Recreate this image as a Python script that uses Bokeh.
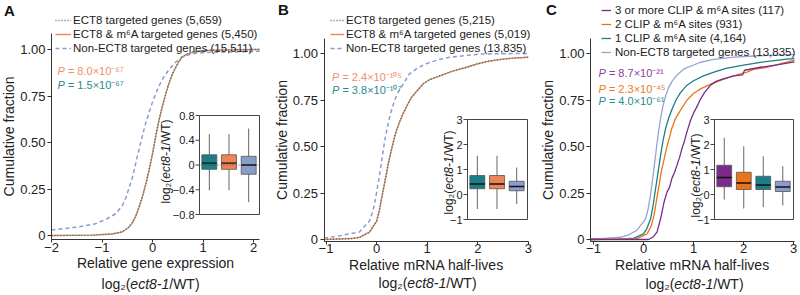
import numpy as np
from bokeh.plotting import figure
from bokeh.models import Range1d, FixedTicker, Label, Legend, LegendItem
from bokeh.layouts import row
from bokeh.embed import file_html
from bokeh.resources import INLINE
from bokeh.core.properties import value

FONT = "Liberation Sans"
TXT = "#222222"

# ------------------------------------------------------------------ data
y_ticks = [0, 0.25, 0.5, 0.75, 1.0]
y_tick_labels = ["0", "0.25", "0.50", "0.75", "1.00"]

# Panel A : relative gene expression
a_xticks = [-2, -1, 0, 1, 2]
a_xtick_labels = ["\u22122", "\u22121", "0", "1", "2"]
a_ect8_x = [-2.0, -1.2, -0.8, -0.6, -0.47, -0.4, -0.34, -0.27, -0.2, -0.13, -0.07, 0.0, 0.06, 0.12,
            0.19, 0.25, 0.32, 0.39, 0.46, 0.52, 0.59, 0.68, 0.79, 1.05, 1.5, 2.12]
a_ect8_y = [0.0, 0.002, 0.008, 0.02, 0.045, 0.07, 0.10, 0.15, 0.21, 0.28, 0.35, 0.44, 0.53, 0.61,
            0.69, 0.75, 0.815, 0.865, 0.905, 0.935, 0.96, 0.975, 0.985, 0.995, 0.998, 1.0]
a_m6a_x = [-2.0, -1.2, -0.8, -0.6, -0.47, -0.4, -0.34, -0.27, -0.2, -0.13, -0.07, 0.0, 0.06, 0.12,
           0.19, 0.25, 0.32, 0.39, 0.46, 0.52, 0.59, 0.68, 0.79, 1.05, 1.5, 2.12]
a_m6a_y = [0.0, 0.002, 0.008, 0.019, 0.043, 0.068, 0.098, 0.148, 0.208, 0.278, 0.348, 0.438, 0.528,
           0.608, 0.688, 0.748, 0.813, 0.864, 0.904, 0.934, 0.959, 0.975, 0.985, 0.995, 0.998, 1.0]
a_non_x = [-2.0, -1.5, -1.13, -0.9, -0.73, -0.6, -0.53, -0.4, -0.27, -0.14, -0.01, 0.12, 0.22, 0.32,
           0.45, 0.59, 0.75, 0.92, 1.2, 1.6, 2.12]
a_non_y = [0.03, 0.045, 0.063, 0.09, 0.117, 0.16, 0.2, 0.31, 0.46, 0.6, 0.71, 0.8, 0.85, 0.89,
           0.93, 0.96, 0.975, 0.982, 0.985, 0.987, 0.99]
a_legend = ["ECT8 targeted genes (5,659)", "ECT8 & m\u2076A targeted genes (5,450)",
            "Non-ECT8 targeted genes (15,511)"]
a_pvals = ["8.0\u00d710\u207b\u2076\u2077", "1.5\u00d710\u207b\u2076\u2077"]
a_box_ticks = [-0.8, -0.4, 0, 0.4, 0.8]
a_box_tick_labels = ["\u22120.8", "\u22120.4", "0", "0.4", "0.8"]
a_box_q1 = [-0.07, -0.07, -0.15]
a_box_med = [0.03, 0.03, 0.0]
a_box_q3 = [0.165, 0.165, 0.14]
a_box_lo = [-0.41, -0.41, -0.60]
a_box_hi = [0.50, 0.50, 0.59]

# Panel B : relative mRNA half-lives
bc_xticks = [-1, 0, 1, 2, 3]
bc_xtick_labels = ["\u22121", "0", "1", "2", "3"]
b_ect8_x = [-1.04, -0.5, -0.34, -0.14, 0.0, 0.05, 0.09, 0.14, 0.19, 0.24, 0.29, 0.34, 0.39, 0.45,
            0.52, 0.6, 0.69, 0.8, 0.92, 1.05, 1.25, 1.5, 1.78, 2.0, 2.24, 2.5, 2.7, 3.0]
b_ect8_y = [0.0, 0.005, 0.012, 0.04, 0.10, 0.15, 0.21, 0.28, 0.35, 0.42, 0.48, 0.535, 0.585, 0.63,
            0.675, 0.72, 0.765, 0.80, 0.837, 0.86, 0.88, 0.905, 0.926, 0.945, 0.96, 0.97, 0.975, 0.98]
b_m6a_x = [-1.04, -0.5, -0.34, -0.14, 0.0, 0.05, 0.09, 0.14, 0.19, 0.24, 0.29, 0.34, 0.39, 0.45,
           0.52, 0.6, 0.69, 0.8, 0.92, 1.05, 1.25, 1.5, 1.78, 2.0, 2.24, 2.5, 2.7, 3.0]
b_m6a_y = [0.0, 0.005, 0.011, 0.039, 0.098, 0.148, 0.208, 0.278, 0.348, 0.418, 0.478, 0.534, 0.584,
           0.629, 0.674, 0.719, 0.764, 0.80, 0.836, 0.86, 0.88, 0.905, 0.926, 0.945, 0.96, 0.97, 0.975, 0.98]
b_non_x = [-1.04, -0.73, -0.34, -0.14, -0.09, -0.04, 0.01, 0.06, 0.11, 0.16, 0.21, 0.26, 0.31, 0.36,
           0.42, 0.49, 0.65, 0.8, 0.98, 1.2, 1.45, 2.04, 2.5, 3.0]
b_non_y = [0.007, 0.02, 0.04, 0.10, 0.14, 0.19, 0.27, 0.35, 0.44, 0.53, 0.60, 0.66, 0.71, 0.75,
           0.79, 0.82, 0.89, 0.92, 0.945, 0.965, 0.98, 0.997, 0.999, 1.0]
b_legend = ["ECT8 targeted genes (5,215)", "ECT8 & m\u2076A targeted genes (5,019)",
            "Non-ECT8 targeted genes (13,835)"]
b_pvals = ["2.4\u00d710\u207b\u00b9\u2070\u2075", "3.8\u00d710\u207b\u00b9\u2070\u2077"]
bc_box_ticks = [-1, 0, 1, 2, 3]
bc_box_tick_labels = ["\u22121", "0", "1", "2", "3"]
b_box_q1 = [0.23, 0.23, 0.15]
b_box_med = [0.42, 0.42, 0.32]
b_box_q3 = [0.76, 0.76, 0.53]
b_box_lo = [-0.58, -0.58, -0.38]
b_box_hi = [1.55, 1.55, 1.08]

# Panel C : by number of CLIP & m6A sites
c_3_x = [-1.06, 0.1, 0.2, 0.27, 0.34, 0.41, 0.47, 0.52, 0.57, 0.62, 0.67, 0.72, 0.77, 0.82, 0.87,
         0.94, 1.01, 1.08, 1.14, 1.22, 1.34, 1.45, 1.61, 1.81, 1.98, 2.02, 2.34, 2.7, 3.02]
c_3_y = [0.0, 0.0, 0.015, 0.04, 0.11, 0.2, 0.255, 0.28, 0.33, 0.36, 0.40, 0.44, 0.49, 0.53, 0.58,
         0.64, 0.685, 0.72, 0.755, 0.79, 0.83, 0.85, 0.865, 0.88, 0.885, 0.91, 0.926, 0.94, 0.955]
c_2_x = [-1.06, -0.13, 0.07, 0.15, 0.21, 0.26, 0.31, 0.36, 0.41, 0.46, 0.51, 0.57, 0.64, 0.75, 0.87,
         1.0, 1.14, 1.3, 1.54, 1.8, 2.07, 2.2, 2.47, 2.75, 3.02]
c_2_y = [0.0, 0.005, 0.03, 0.07, 0.13, 0.21, 0.29, 0.37, 0.43, 0.49, 0.54, 0.60, 0.65, 0.70, 0.75,
         0.785, 0.81, 0.83, 0.855, 0.88, 0.90, 0.915, 0.926, 0.945, 0.965]
c_1_x = [-1.06, -0.5, -0.19, 0.0, 0.07, 0.14, 0.19, 0.24, 0.29, 0.34, 0.39, 0.44, 0.5, 0.57, 0.65,
         0.74, 0.85, 1.01, 1.2, 1.41, 1.65, 1.94, 2.4, 2.87, 3.02]
c_1_y = [0.0, 0.002, 0.007, 0.03, 0.06, 0.11, 0.18, 0.27, 0.36, 0.45, 0.53, 0.595, 0.65, 0.70, 0.75,
         0.79, 0.825, 0.855, 0.88, 0.90, 0.92, 0.935, 0.955, 0.97, 0.972]
c_non_x = [-1.06, -0.86, -0.46, -0.3, -0.13, 0.04, 0.09, 0.14, 0.19, 0.24, 0.29, 0.34, 0.39, 0.44,
           0.5, 0.57, 0.67, 0.81, 1.14, 1.4, 1.81, 2.3, 2.87, 3.02]
c_non_y = [0.004, 0.005, 0.012, 0.025, 0.05, 0.11, 0.16, 0.24, 0.34, 0.45, 0.56, 0.65, 0.72, 0.77,
           0.815, 0.85, 0.885, 0.917, 0.953, 0.968, 0.98, 0.988, 0.993, 0.994]
c_legend = ["3 or more CLIP & m\u2076A sites (117)", "2 CLIP & m\u2076A sites (931)",
            "1 CLIP & m\u2076A site (4,164)", "Non-ECT8 targeted genes (13,835)"]
c_pvals = ["8.7\u00d710\u207b\u00b2\u00b9", "2.3\u00d710\u207b\u2074\u2075", "4.0\u00d710\u207b\u2076\u00b9"]
c_box_q1 = [0.31, 0.20, 0.20, 0.12]
c_box_med = [0.68, 0.46, 0.38, 0.30]
c_box_q3 = [1.17, 0.89, 0.73, 0.53]
c_box_lo = [-0.20, -0.56, -0.50, -0.44]
c_box_hi = [2.27, 1.93, 1.53, 1.13]

panel_letters = ["A", "B", "C"]
x_title_1 = ["Relative gene expression", "Relative mRNA half-lives", "Relative mRNA half-lives"]
y_title = "Cumulative fraction"

# ------------------------------------------------------------------ styles
TEAL = "#1c7f87"
SALMON = "#ef8456"
BLUEGRAY = "#8a9dca"
PURPLE = "#7a2b8c"
ORANGE = "#ec7418"
LIGHTBLUE = "#93a6d2"
P_SALMON = "#f08f68"
P_TEAL = "#2a8a90"
P_PURPLE = "#8a3d9c"
P_ORANGE = "#ea7a22"

H = 295

W_EM = {' ': 278, '(': 333, ')': 333, ',': 278, '-': 333, '.': 278, '/': 278, '=': 584,
        '\u00d7': 584, 'P': 667, 'W': 944, 'T': 611, 'l': 222, 'o': 556, 'g': 556, 'e': 556,
        'c': 500, 't': 278, '\u2082': 400}


def text_w(s, size):
    return sum(W_EM.get(ch, 556) for ch in s) * size / 1000.0


class Geo:
    """Whole canvas is the frame; map page pixels <-> data."""

    def __init__(self, left, width, xa_px, xa_val, ppx, ya_px, ya_val, ppy):
        self.left, self.width, self.ppx, self.ppy = left, width, ppx, ppy
        self.x0 = xa_val - (xa_px - left) / ppx
        self.x1 = self.x0 + width / ppx
        self.y1 = ya_val + ya_px / ppy
        self.y0 = self.y1 - H / ppy

    def dx(self, px):
        return self.x0 + (px - self.left) / self.ppx

    def dy(self, py):
        return self.y1 - py / self.ppy


def make_fig(g, xticks, xlabels, xtitle, axis_x_px, axis_y_px, x_end, y_top_px):
    p = figure(width=g.width, height=H, title=None,
               x_range=Range1d(g.x0, g.x1), y_range=Range1d(g.y0, g.y1),
               output_backend="svg", toolbar_location=None,
               min_border=0, min_border_left=0, min_border_right=0,
               min_border_top=0, min_border_bottom=0)
    p.xgrid.visible = False
    p.ygrid.visible = False
    p.outline_line_color = None
    p.background_fill_color = "white"
    p.border_fill_color = "white"
    for ax in (p.xaxis[0], p.yaxis[0]):
        ax.axis_line_color = "#333333"
        ax.axis_line_width = 1
        ax.major_tick_line_color = "#333333"
        ax.major_tick_out = 4
        ax.major_tick_in = 0
        ax.minor_tick_line_color = None
        ax.major_label_text_font = FONT
        ax.major_label_text_font_size = "13px"
        ax.major_label_text_color = TXT
        ax.axis_label_text_font = FONT
        ax.axis_label_text_font_size = "14px"
        ax.axis_label_text_font_style = "normal"
        ax.axis_label_text_color = TXT
    xa, ya = p.xaxis[0], p.yaxis[0]
    xa.ticker = FixedTicker(ticks=xticks)
    xa.major_label_overrides = {t: l for t, l in zip(xticks, xlabels)}
    xa.major_tick_out = 3
    xa.major_label_standoff = 0
    xa.axis_label = xtitle
    xa.axis_label_standoff = 0
    xa.fixed_location = g.dy(axis_y_px)
    xa.bounds = (g.dx(axis_x_px), x_end)
    ya.ticker = FixedTicker(ticks=y_ticks)
    ya.major_label_overrides = {t: l for t, l in zip(y_ticks, y_tick_labels)}
    ya.major_label_standoff = 2
    ya.axis_label = y_title
    ya.axis_label_standoff = 0
    ya.fixed_location = g.dx(axis_x_px)
    ya.bounds = (g.dy(axis_y_px), g.dy(y_top_px))
    return p


def label(p, g, px, py, text, size, color=TXT, style="normal", align="left", angle=0.0):
    p.add_layout(Label(x=g.dx(px), y=g.dy(py), text=text, angle=angle,
                       text_align=align, text_baseline="middle", text_font=FONT,
                       text_font_style=style, text_font_size=f"{size}px", text_color=color))


def mixed(p, g, parts, px, py, size, color=TXT, angle=0.0, anchor="center"):
    """parts[0] ends at a pivot, the other parts follow it (no leading spaces)."""
    w = [text_w(t, size) for t, _ in parts]
    total = sum(w)
    pivot = (-total / 2 + w[0]) if anchor == "center" else w[0]

    def pos(off):
        if angle == 0.0:
            return px + off, py
        return px, py - off

    x, y = pos(pivot)
    label(p, g, x, y, parts[0][0], size, color, parts[0][1], "right", angle)
    off = pivot
    for (t, st), ww in zip(parts[1:], w[1:]):
        x, y = pos(off)
        label(p, g, x, y, t, size, color, st, "left", angle)
        off += ww


def log_title(p, g, px, py, size, angle=0.0):
    mixed(p, g, [("log\u2082(", "normal"), ("ect8-1", "italic"), ("/WT)", "normal")],
          px, py, size, TXT, angle)


def p_label(p, g, pv, px, py, color):
    wP = text_w("P", 11)
    label(p, g, px, py, "P", 11, color, "italic", "left")
    label(p, g, px + wP + text_w(" ", 11), py, "= " + pv, 11, color, "normal", "left")


def add_legend(p, g, items, glyph_left, glyph_w, standoff, row1_y, pitch, font_size):
    n = len(items)
    top = row1_y - pitch / 2
    bottom = top + n * pitch
    leg = Legend(items=[LegendItem(label=t, renderers=[r]) for t, r in items],
                 location=(glyph_left - g.left, H - bottom),
                 orientation="vertical", glyph_width=glyph_w, glyph_height=pitch,
                 label_height=pitch, label_standoff=standoff, spacing=0, padding=0, margin=0,
                 background_fill_alpha=0, border_line_alpha=0,
                 label_text_font=FONT, label_text_font_size=f"{font_size}px",
                 label_text_color=TXT, label_text_baseline="middle")
    p.add_layout(leg)


def inset(p, g, box, ymin, ymax, ticks, tick_labels, q1, med, q3, lo, hi, colors,
          zero_line, lab_center):
    n = len(q1)
    bl, br, bt, bb = box
    ux = (n + 0.05) / (br - bl)
    ix0 = 0.5 - (bl - g.left) * ux
    ix1 = ix0 + g.width * ux
    uy = (ymax - ymin) / (bb - bt)
    iy1 = ymax + bt * uy
    iy0 = iy1 - H * uy
    p.extra_x_ranges = {"ix": Range1d(ix0, ix1)}
    p.extra_y_ranges = {"iy": Range1d(iy0, iy1)}
    kw = dict(x_range_name="ix", y_range_name="iy")
    cats = list(range(1, n + 1))
    p.quad(left=[0.5], right=[n + 0.55], bottom=[ymin], top=[ymax], fill_color="white",
           line_color="#444444", line_width=1, **kw)
    p.segment(x0=cats, x1=cats, y0=lo, y1=hi, line_color="#666666", line_width=1, **kw)
    bw = 0.76
    p.vbar(x=cats, width=bw, bottom=q1, top=q3, fill_color=colors, line_color="#555555",
           line_width=0.8, **kw)
    p.segment(x0=[c - bw / 2 for c in cats], x1=[c + bw / 2 for c in cats], y0=med, y1=med,
              line_color="#111111", line_width=1.3, **kw)
    if zero_line:
        p.segment(x0=[0.5], x1=[n + 0.55], y0=[0], y1=[0], line_color="#333333",
                  line_width=0.8, line_dash="1 2", **kw)
    p.ray(x=[0.5] * len(ticks), y=ticks, length=4, length_units="screen", angle=np.pi,
          line_color="#444444", line_width=1, **kw)
    p.text(x=[0.5] * len(ticks), y=ticks, text=tick_labels, x_offset=-5, text_align="right",
           text_baseline="middle", text_font=value(FONT), text_font_size="11px",
           text_color=TXT, **kw)
    log_title(p, g, lab_center[0], lab_center[1], 12, angle=np.pi / 2)


# ------------------------------------------------------------------ panel A
gA = Geo(0, 268, 51, -2.0, 50.5, 235, 0.0, 186.0)
pA = make_fig(gA, a_xticks, a_xtick_labels, x_title_1[0], 51, 239, 2.12, 33)
inset(pA, gA, (199, 259, 115, 214), -0.8, 0.8, a_box_ticks, a_box_tick_labels,
      a_box_q1, a_box_med, a_box_q3, a_box_lo, a_box_hi, [TEAL, SALMON, BLUEGRAY], True,
      (165, 161))
rA_non = pA.line(a_non_x, a_non_y, line_color=BLUEGRAY, line_width=1.5, line_dash="4 3")
rA_m6a = pA.line(a_m6a_x, a_m6a_y, line_color=SALMON, line_width=1.4)
rA_ect8 = pA.line(a_ect8_x, a_ect8_y, line_color=TEAL, line_width=1.5, line_dash="1 2")
add_legend(pA, gA, list(zip(a_legend, [rA_ect8, rA_m6a, rA_non])), 55, 16, 2, 20, 14, 11.5)
for (pv, col), yy in zip(zip(a_pvals, [P_SALMON, P_TEAL]), [70, 84]):
    p_label(pA, gA, pv, 57, yy, col)
log_title(pA, gA, 150, 283, 14)
label(pA, gA, 9, 10, panel_letters[0], 15, "#111111", "bold", "center")

# ------------------------------------------------------------------ panel B
gB = Geo(268, 265, 325.5, -1.0, 50.6, 239, 0.0, 186.0)
pB = make_fig(gB, bc_xticks, bc_xtick_labels, x_title_1[1], 323.5, 240.5, 3.0, 38)
inset(pB, gB, (467, 527, 119, 219), -1, 3, bc_box_ticks, bc_box_tick_labels,
      b_box_q1, b_box_med, b_box_q3, b_box_lo, b_box_hi, [TEAL, SALMON, BLUEGRAY], False,
      (448, 172))
rB_non = pB.line(b_non_x, b_non_y, line_color=BLUEGRAY, line_width=1.5, line_dash="4 3")
rB_m6a = pB.line(b_m6a_x, b_m6a_y, line_color=SALMON, line_width=1.4)
rB_ect8 = pB.line(b_ect8_x, b_ect8_y, line_color=TEAL, line_width=1.5, line_dash="1 2")
add_legend(pB, gB, list(zip(b_legend, [rB_ect8, rB_m6a, rB_non])), 330, 14, 2, 20, 14, 11.5)
for (pv, col), yy in zip(zip(b_pvals, [P_SALMON, P_TEAL]), [76, 89]):
    p_label(pB, gB, pv, 331.5, yy, col)
log_title(pB, gB, 427, 282, 14)
label(pB, gB, 283, 9, panel_letters[1], 15, "#111111", "bold", "center")

# ------------------------------------------------------------------ panel C
gC = Geo(533, 267, 593, -1.0, 50.0, 239, 0.0, 186.0)
pC = make_fig(gC, bc_xticks, bc_xtick_labels, x_title_1[2], 590, 240.5, 3.02, 38)
inset(pC, gC, (714, 793, 119, 219), -1, 3, bc_box_ticks, bc_box_tick_labels,
      c_box_q1, c_box_med, c_box_q3, c_box_lo, c_box_hi, [PURPLE, ORANGE, TEAL, BLUEGRAY], False,
      (695, 175))
rC_non = pC.line(c_non_x, c_non_y, line_color=LIGHTBLUE, line_width=1.3)
rC_1 = pC.line(c_1_x, c_1_y, line_color=TEAL, line_width=1.3)
rC_2 = pC.line(c_2_x, c_2_y, line_color=ORANGE, line_width=1.3)
rC_3 = pC.line(c_3_x, c_3_y, line_color=PURPLE, line_width=1.3)
add_legend(pC, gC, list(zip(c_legend, [rC_3, rC_2, rC_1, rC_non])), 601, 10, 4, 10, 14, 11.5)
for (pv, col), yy in zip(zip(c_pvals, [P_PURPLE, P_ORANGE, P_TEAL]), [72, 88, 100.5]):
    p_label(pC, gC, pv, 598, yy, col)
log_title(pC, gC, 694, 283, 14)
label(pC, gC, 551, 9, panel_letters[2], 15, "#111111", "bold", "center")

layout = row(pA, pB, pC)
open("out.html", "w").write(file_html(layout, INLINE, "ECT8 cumulative fraction"))
